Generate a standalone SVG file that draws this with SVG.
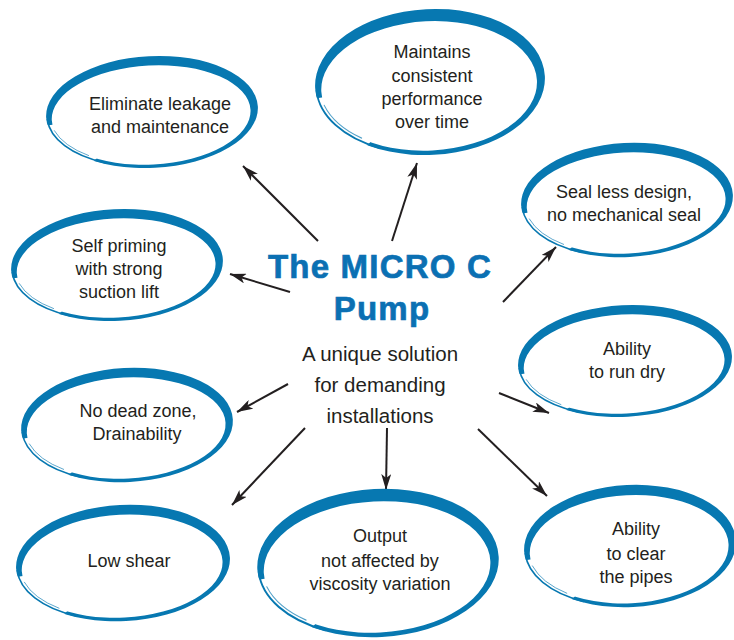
<svg xmlns="http://www.w3.org/2000/svg" xmlns:xlink="http://www.w3.org/1999/xlink" width="734" height="640" viewBox="0 0 734 640">
<style>
.ring{fill:#0778b1;fill-rule:evenodd}
.sk{fill:none;stroke:#0778b1;stroke-linecap:round}
.t{font-family:"Liberation Sans",Arial,sans-serif;font-size:18px;fill:#231f20;text-anchor:middle}
.title{font-family:"Liberation Sans",Arial,sans-serif;font-weight:bold;font-size:33px;letter-spacing:1.2px;fill:#0b70b3;stroke:#0b70b3;stroke-width:0.7px;text-anchor:middle}
.sub{font-family:"Liberation Sans",Arial,sans-serif;font-size:20.5px;fill:#231f20;text-anchor:middle}
.arr{stroke:#231f20;stroke-width:2;fill:none;marker-end:url(#ah)}
</style>
<defs>
<clipPath id="gap" clipPathUnits="userSpaceOnUse">
<path clip-rule="evenodd" d="M-400,-250 H400 V250 H-400 Z M0,0 L-182,140 L-315,24 Z"/>
</clipPath>
<g id="ring">
<path class="ring" clip-path="url(#gap)" d="M-106,0 A106,57 0 1 0 106,0 A106,57 0 1 0 -106,0 Z M-100.5,3 A99.5,50.5 0 1 0 98.5,3 A99.5,50.5 0 1 0 -100.5,3 Z"/>
<path class="sk" stroke-width="1.6" d="M-49.3,49.4 A105,56 0 0 1 -104.9,2"/>
<path class="sk" stroke-width="0.9" opacity="0.7" d="M-65.6,41 A102,53.5 0 0 1 -98.5,13.8"/>
</g>
<marker id="ah" viewBox="0 0 16 10" refX="16" refY="5" markerWidth="16" markerHeight="10" markerUnits="userSpaceOnUse" orient="auto">
<path d="M0,0 L16,5 L0,10 L4,5 Z" fill="#231f20"/>
</marker>
</defs>
<rect width="734" height="640" fill="#ffffff"/>
<g id="connectors">
<line class="arr" x1="318" y1="241" x2="243" y2="166"/>
<line class="arr" x1="392" y1="241" x2="417" y2="163"/>
<line class="arr" x1="503" y1="302" x2="556" y2="247"/>
<line class="arr" x1="290" y1="292" x2="230" y2="274"/>
<line class="arr" x1="499" y1="393" x2="549" y2="413"/>
<line class="arr" x1="288" y1="384" x2="237" y2="412"/>
<line class="arr" x1="305" y1="428" x2="232" y2="505"/>
<line class="arr" x1="387" y1="428" x2="386" y2="490"/>
<line class="arr" x1="478" y1="429" x2="547" y2="496"/>
</g>
<g id="center">
<text class="title" x="380" y="278">The MICRO C</text>
<text class="title" x="382" y="320">Pump</text>
<text class="sub" x="380" y="361">A unique solution</text>
<text class="sub" x="380" y="392">for demanding</text>
<text class="sub" x="380" y="423">installations</text>
</g>
<g id="eliminate">
<use xlink:href="#ring" transform="translate(152,112) rotate(-3) scale(1,0.98)"/>
<text class="t" x="160" y="110">Eliminate leakage</text>
<text class="t" x="160" y="133">and maintenance</text>
</g>
<g id="maintains">
<use xlink:href="#ring" transform="translate(430,82) rotate(-3) scale(1.085,1.28)"/>
<text class="t" x="432" y="58">Maintains</text>
<text class="t" x="432" y="82">consistent</text>
<text class="t" x="432" y="105">performance</text>
<text class="t" x="432" y="128">over time</text>
</g>
<g id="seal">
<use xlink:href="#ring" transform="translate(627,200) rotate(-3)"/>
<text class="t" x="624" y="198">Seal less design,</text>
<text class="t" x="624" y="221">no mechanical seal</text>
</g>
<g id="selfpriming">
<use xlink:href="#ring" transform="translate(117,265) rotate(-3) scale(1,0.98)"/>
<text class="t" x="119" y="252">Self priming</text>
<text class="t" x="119" y="275">with strong</text>
<text class="t" x="119" y="298">suction lift</text>
</g>
<g id="rundry">
<use xlink:href="#ring" transform="translate(625,361) rotate(-3) scale(1.01,0.98)"/>
<text class="t" x="627" y="355">Ability</text>
<text class="t" x="627" y="378">to run dry</text>
</g>
<g id="deadzone">
<use xlink:href="#ring" transform="translate(127,425) rotate(-3)"/>
<text class="t" x="138" y="417">No dead zone,</text>
<text class="t" x="137" y="440">Drainability</text>
</g>
<g id="lowshear">
<use xlink:href="#ring" transform="translate(123,563) rotate(-3) scale(1.01,1.02)"/>
<text class="t" x="129" y="567">Low shear</text>
</g>
<g id="output">
<use xlink:href="#ring" transform="translate(378,563) rotate(-3) scale(1.14,1.3)"/>
<text class="t" x="380" y="542">Output</text>
<text class="t" x="380" y="567">not affected by</text>
<text class="t" x="380" y="590">viscosity variation</text>
</g>
<g id="clearpipes">
<use xlink:href="#ring" transform="translate(630,546) rotate(-3) scale(1,1.07)"/>
<text class="t" x="636" y="535">Ability</text>
<text class="t" x="636" y="560">to clear</text>
<text class="t" x="636" y="583">the pipes</text>
</g>
</svg>
